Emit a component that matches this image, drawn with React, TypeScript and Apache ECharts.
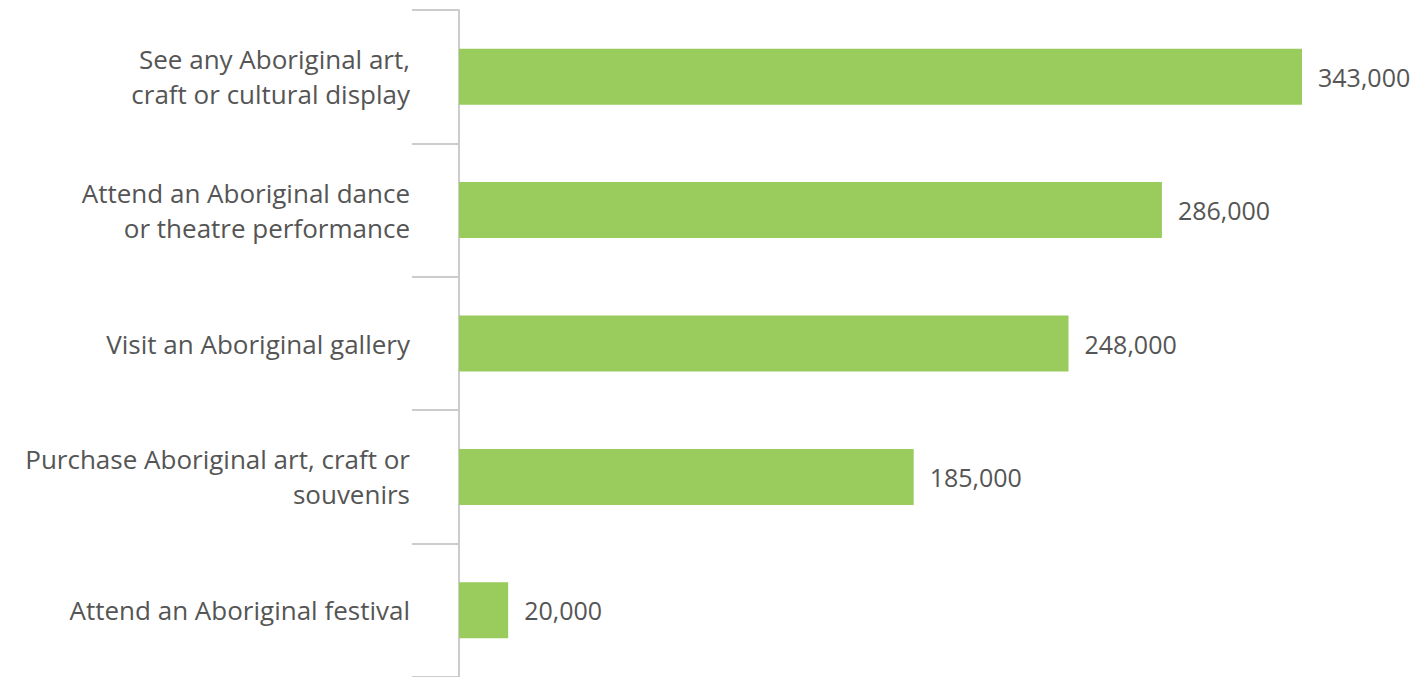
import React, { useEffect, useRef } from "react";
import * as echarts from "echarts";

const categories = [
  "See any Aboriginal art,\ncraft or cultural display",
  "Attend an Aboriginal dance\nor theatre performance",
  "Visit an Aboriginal gallery",
  "Purchase Aboriginal art, craft or\nsouvenirs",
  "Attend an Aboriginal festival",
];
const values = [343000, 286000, 248000, 185000, 20000];

const TEXT = "#555555";
const BAR = "#99cc5c";
const AXIS = "#cccccc";
const FONT = "'Open Sans', Lato, sans-serif";

export default function App() {
  const ref = useRef<HTMLDivElement>(null);
  useEffect(() => {
    if (!ref.current) return;
    const chart = echarts.init(ref.current, undefined, { renderer: "svg" });
    chart.setOption({
      animation: false,
      grid: { left: 459, right: 122, top: 10, bottom: 0, containLabel: false },
      xAxis: {
        type: "value",
        min: 0,
        max: 343000,
        show: false,
      },
      yAxis: {
        type: "category",
        data: categories,
        inverse: true,
        axisLine: { show: true, lineStyle: { color: AXIS, width: 2 } },
        axisTick: { show: true, length: 47, lineStyle: { color: AXIS, width: 2 } },
        axisLabel: {
          margin: 49,
          color: TEXT,
          fontSize: 26,
          fontFamily: FONT,
          lineHeight: 35,
          align: "right",
        },
        splitLine: { show: false },
      },
      series: [
        {
          type: "bar",
          data: values,
          barWidth: 56,
          itemStyle: { color: BAR },
          label: {
            show: true,
            position: "right",
            distance: 16,
            color: TEXT,
            fontSize: 25,
            fontFamily: FONT,
            formatter: (p: any) => p.value.toLocaleString("en-US"),
          },
        },
      ],
    });
    return () => chart.dispose();
  }, []);
  return (
    <div
      ref={ref}
      style={{ position: "fixed", left: 0, top: 0, width: 1424, height: 677, background: "#fff" }}
    />
  );
}
